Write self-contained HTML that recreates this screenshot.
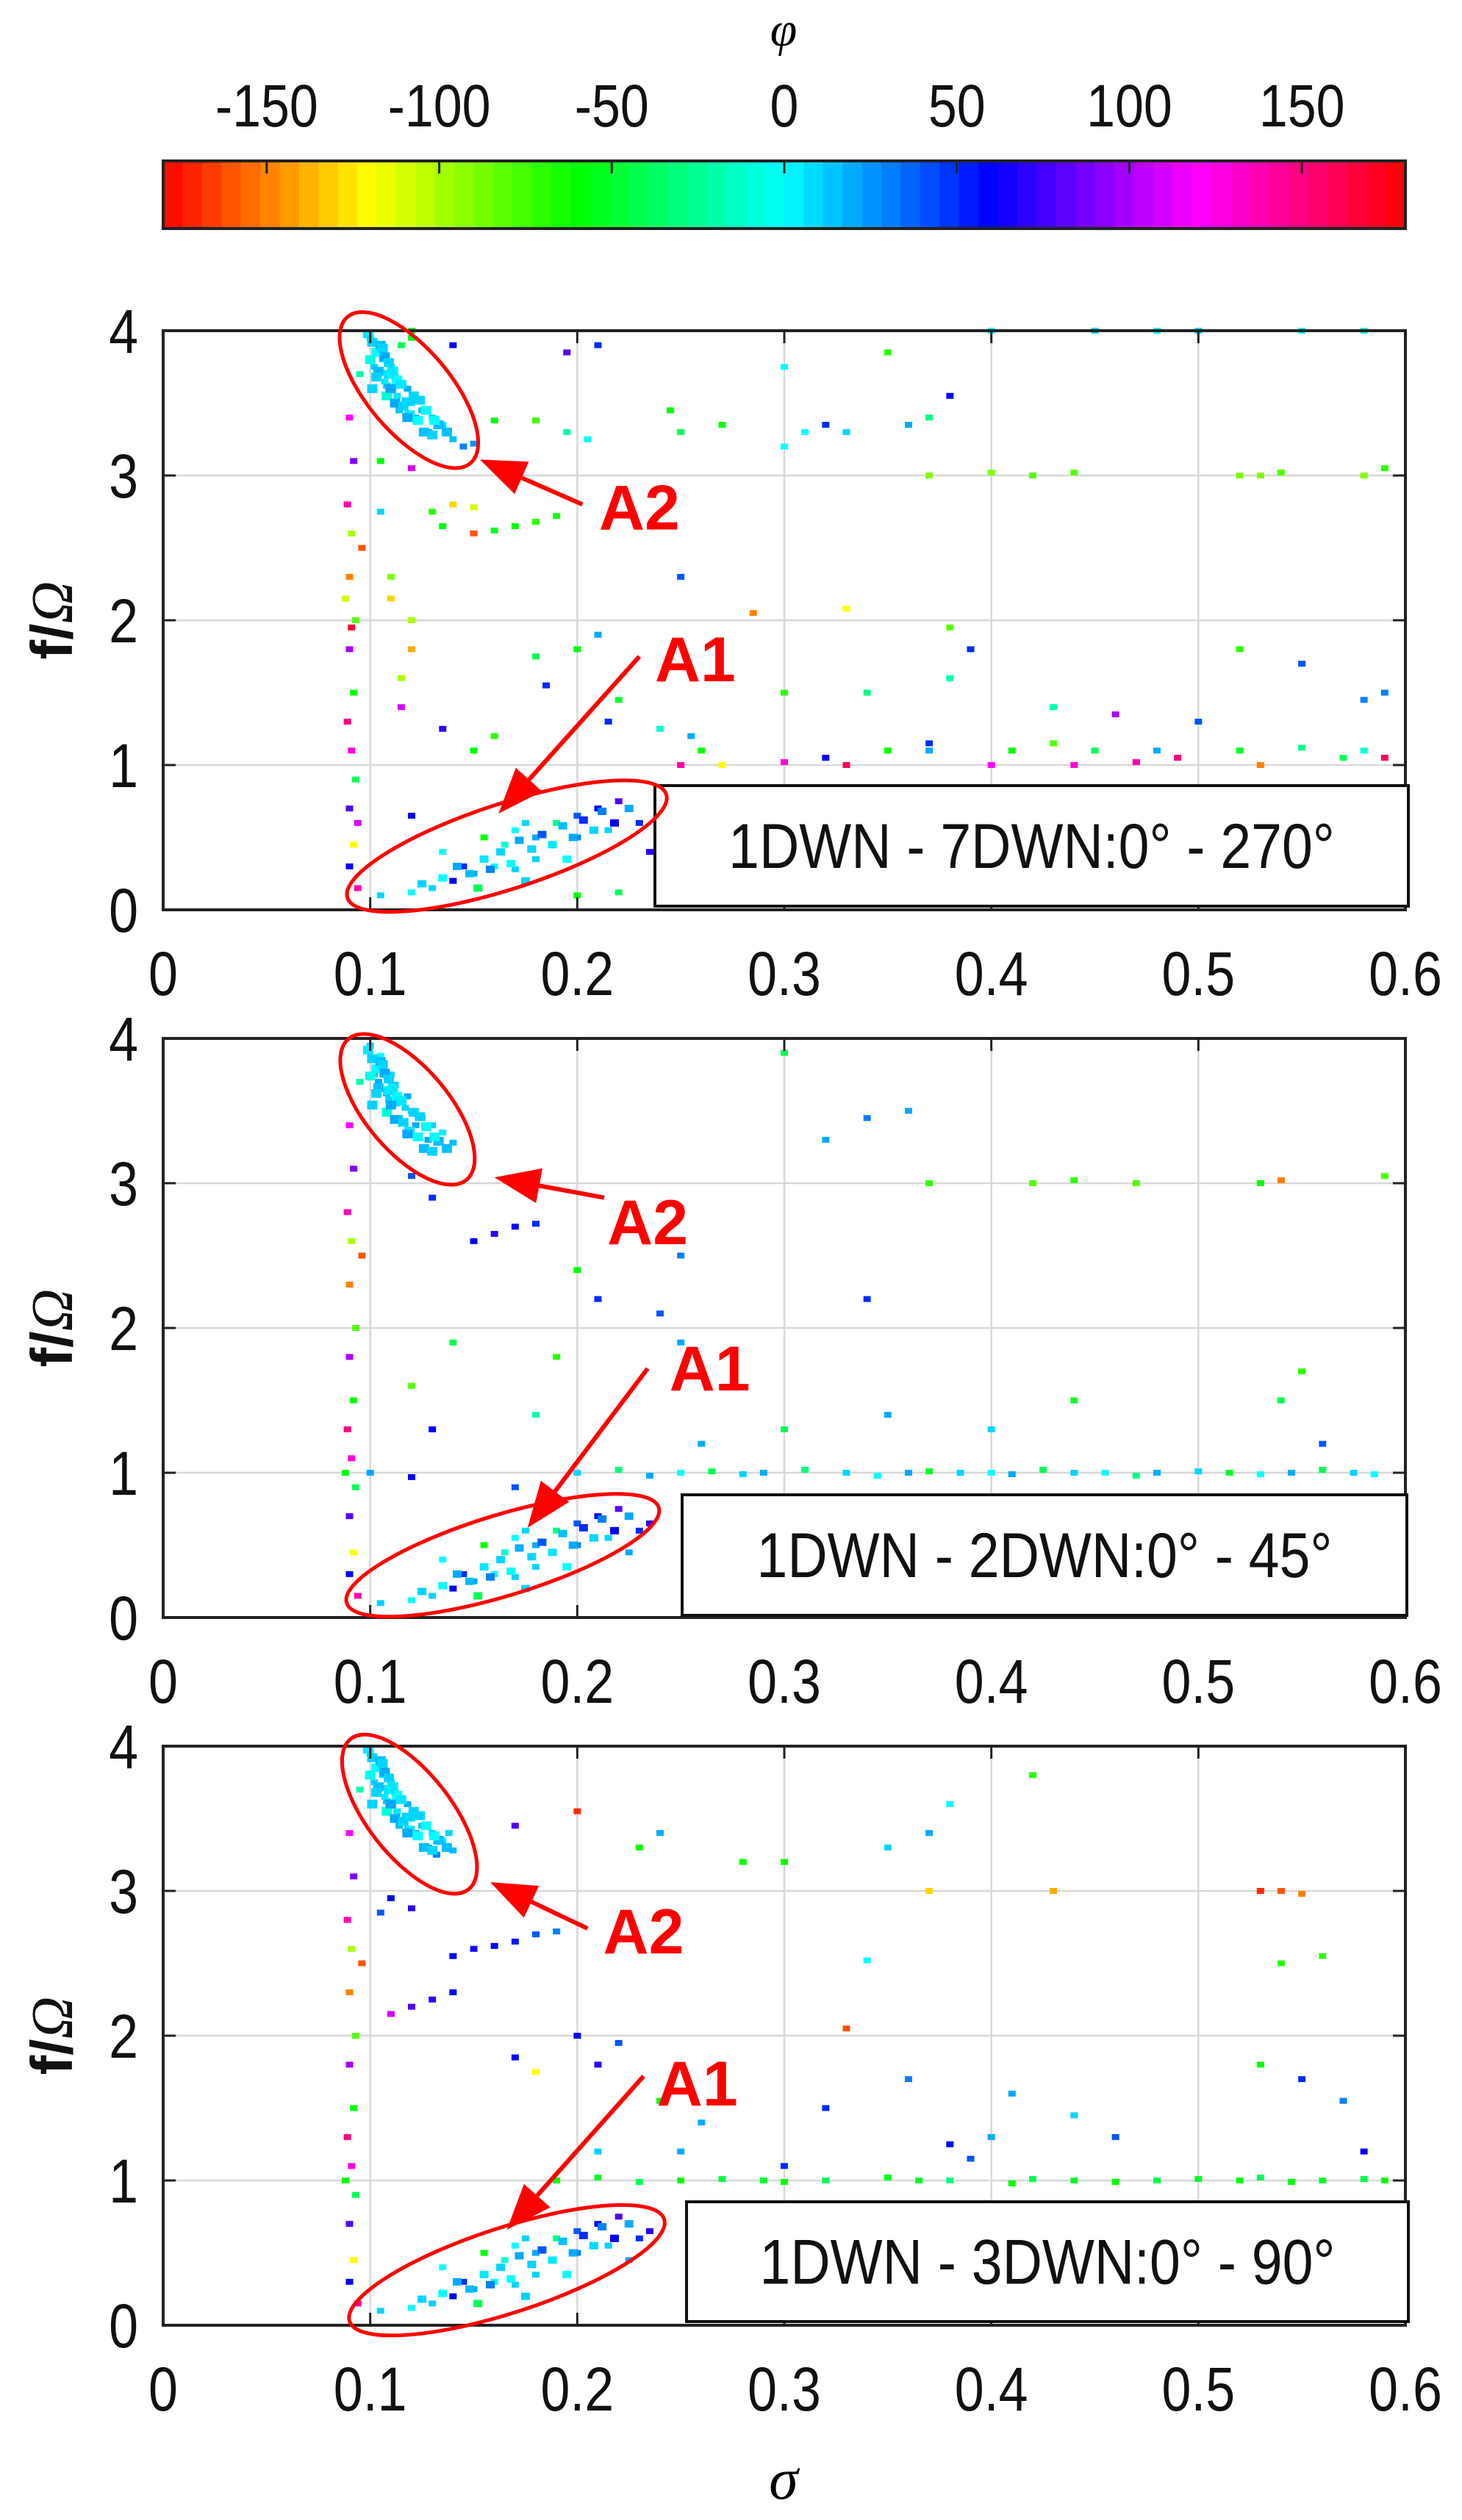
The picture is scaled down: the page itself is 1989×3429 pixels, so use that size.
<!DOCTYPE html>
<html><head><meta charset="utf-8"><style>
html,body{margin:0;padding:0;background:#fff;}
svg{display:block;font-family:"Liberation Sans",sans-serif;}
</style></head><body>
<svg id="fig" width="1989" height="3429" viewBox="0 0 1989 3429" xmlns="http://www.w3.org/2000/svg">
<rect x="0" y="0" width="1989" height="3429" fill="#fff"/>
<g id="cbar"></g>
<g id="p1"></g>
<g id="p2"></g>
<g id="p3"></g>
<text x="1066" y="3400" font-family="Liberation Serif" font-style="italic" font-size="80" text-anchor="middle">σ</text>
<text x="1066" y="62" font-family="Liberation Serif" font-style="italic" font-size="66" text-anchor="middle">φ</text>
</svg>
<script>
// colorbar data
const cbTicks = [-150, -100, -50, 0, 50, 100, 150];
const cbMin = -180, cbMax = 180, cbBands = 64;

// x/y axis ticks
const xTicks = [0, 0.1, 0.2, 0.3, 0.4, 0.5, 0.6];
const xTickLabels = ["0", "0.1", "0.2", "0.3", "0.4", "0.5", "0.6"];
const yTicks = [0, 1, 2, 3, 4];
const yTickLabels = ["0", "1", "2", "3", "4"];

// panel titles
const panelLabels = ["1DWN - 7DWN:0° - 270°", "1DWN - 2DWN:0° - 45°", "1DWN - 3DWN:0° - 90°"];

// dense A2 cloud (shared pattern in all panels)
const a2CloudSigma = [0.099,0.101,0.103,0.105,0.107,0.109,0.111,0.113,0.101,0.104,0.108,0.112,0.116,0.119,0.123,0.126,0.130,0.100,0.106,0.110,0.115,0.121,0.127,0.133,0.103,0.109,0.118,0.124,0.131,0.137];
const a2CloudF = [3.98,3.92,3.85,3.90,3.82,3.78,3.72,3.66,3.60,3.72,3.55,3.50,3.48,3.42,3.38,3.30,3.28,3.80,3.88,3.60,3.63,3.55,3.45,3.35,3.68,3.70,3.40,3.52,3.38,3.30];
const a2CloudPhi = [5,10,0,15,20,10,5,0,10,15,-10,20,10,5,0,15,10,-5,10,20,5,10,0,15,10,5,20,10,0,15];
// dense A1 cloud
const a1CloudSigma = [0.125,0.135,0.142,0.148,0.155,0.158,0.163,0.168,0.172,0.178,0.183,0.188,0.193,0.198,0.203,0.208,0.212,0.218,0.225,0.152,0.175,0.195];
const a1CloudF = [0.18,0.22,0.30,0.25,0.35,0.28,0.40,0.32,0.48,0.42,0.52,0.45,0.58,0.50,0.62,0.55,0.68,0.60,0.70,0.15,0.20,0.35];
const a1CloudPhi = [10,0,20,15,5,30,10,0,20,10,40,5,15,20,50,10,30,60,20,-40,10,0];

// panel 1 data (sigma, f/Omega, phi)
const p1Sigma = [0.100,0.103,0.106,0.104,0.110,0.108,0.113,0.118,0.120,0.125,0.130,0.135,0.128,0.140,0.145,0.150,0.115,0.120,0.102,0.107,0.112,0.117,0.122,0.105,0.109,0.114,
0.090,0.092,0.089,0.091,0.090,0.093,0.090,0.092,0.089,0.091,0.093,0.090,0.092,0.090,0.094,0.095,0.096,0.088,0.091,0.094,
0.105,0.120,0.105,0.130,0.140,0.150,0.135,0.150,0.160,0.170,0.180,0.190,0.160,0.180,0.195,0.205,0.110,0.110,0.120,0.120,0.115,0.115,0.135,0.150,0.160,0.180,0.185,0.200,0.210,0.220,0.215,0.240,0.250,0.260,0.255,0.270,0.300,0.320,0.330,0.350,0.370,0.380,0.370,0.400,0.410,0.430,0.450,0.440,0.470,0.490,0.480,0.500,0.520,0.530,0.550,0.570,0.580,0.590,0.580,0.460,0.430,0.340,0.300,0.250,0.285,0.330,0.380,0.390,0.520,0.550,0.590,
0.370,0.400,0.420,0.440,0.520,0.530,0.540,0.580,0.590,
0.300,0.350,0.380,0.360,0.330,0.300,0.310,0.320,0.370,0.270,0.250,0.245,0.210,0.195,0.140,0.120,0.400,0.450,0.480,0.500,0.550,0.580,
0.105,0.120,0.130,0.140,0.150,0.160,0.170,0.165,0.170,0.175,0.180,0.190,0.200,0.210,0.215,0.220,0.230,0.200,0.180,0.155,0.120,0.135,0.145,0.200,0.220,0.235];
const p1F = [3.95,3.85,3.80,3.70,3.75,3.62,3.55,3.60,3.50,3.45,3.40,3.35,3.30,3.25,3.20,3.22,3.90,3.95,3.75,3.65,3.68,3.52,3.40,3.88,3.58,3.45,
3.40,3.10,2.80,2.60,2.30,2.00,1.80,1.50,1.30,1.10,0.90,0.70,0.45,0.30,0.15,3.70,2.50,2.15,1.95,0.60,
3.10,3.05,2.75,2.75,2.80,2.78,2.65,2.60,2.62,2.65,2.68,2.72,3.38,3.38,3.30,3.25,2.30,2.15,2.00,1.80,1.60,1.40,1.25,1.10,1.20,1.75,1.55,1.80,1.90,1.45,1.30,1.25,1.00,1.10,1.20,1.00,1.02,1.05,1.00,1.10,1.10,1.60,1.15,1.00,1.10,1.15,1.10,1.00,1.02,1.05,1.10,1.30,1.10,1.00,1.12,1.05,1.10,1.05,1.45,1.35,1.40,1.50,1.50,2.30,2.05,2.08,1.95,1.80,1.80,1.70,1.50,
3.00,3.02,3.00,3.02,3.00,3.00,3.02,3.00,3.05,
3.75,3.85,3.55,3.35,3.30,3.20,3.30,3.35,3.40,3.35,3.30,3.45,3.90,3.85,3.90,4.00,4.00,4.00,4.00,4.00,4.00,4.00,
0.10,0.12,0.15,0.20,0.25,0.30,0.28,0.45,0.55,0.60,0.50,0.60,0.65,0.70,0.55,0.75,0.60,0.50,0.35,0.50,0.65,0.40,0.30,0.10,0.12,0.40];
const p1Phi = [10,15,5,20,10,15,5,20,10,15,10,5,20,15,30,25,-40,-50,10,5,15,10,20,0,10,15,
120,90,140,-100,-150,-80,100,-60,150,130,-40,80,-120,60,140,-20,-160,-110,170,110,
-60,110,10,-70,-130,-110,-60,-160,-50,-60,-70,-65,-60,-75,-20,0,-90,-130,-100,-140,-100,110,70,-60,-70,-40,50,-60,20,-50,50,-10,140,-60,20,-120,130,60,160,-60,20,-20,50,120,-60,-80,-40,130,140,150,20,40,-50,-150,-30,-40,-10,160,30,100,-20,-30,-70,40,-150,-120,-80,50,-70,40,30,
-90,-90,-80,-80,-90,-90,-80,-90,-70,
0,-70,60,20,10,0,0,50,-30,-60,-40,-60,50,80,60,-50,0,10,0,10,0,-10,
10,0,10,60,20,0,10,-10,0,10,20,-30,40,60,10,80,50,30,10,-60,60,0,50,-60,-40,70];

// panel 2 data
const p2Sigma = [0.100,0.103,0.106,0.104,0.110,0.108,0.113,0.118,0.120,0.125,0.130,0.135,0.128,0.140,0.102,0.107,0.112,0.117,0.105,0.109,0.114,0.122,
0.090,0.092,0.089,0.091,0.090,0.093,0.090,0.092,0.089,0.091,0.093,0.090,0.092,0.090,0.094,0.095,0.096,0.088,
0.200,0.220,0.235,0.250,0.265,0.280,0.290,0.310,0.330,0.345,0.360,0.370,0.385,0.400,0.410,0.425,0.440,0.455,0.470,0.480,0.500,0.515,0.530,0.545,0.560,0.575,0.585,
0.150,0.160,0.170,0.180,0.130,0.120,0.300,0.320,0.340,0.360,0.370,0.420,0.440,0.470,0.530,0.540,0.590,0.550,0.540,0.440,0.400,0.350,0.300,0.250,0.240,0.200,0.190,0.140,0.120,0.130,0.100,0.120,0.170,0.250,0.210,0.260,0.180,0.340,0.560,
0.105,0.120,0.130,0.140,0.150,0.160,0.170,0.165,0.170,0.175,0.180,0.190,0.200,0.210,0.215,0.220,0.230,0.200,0.180,0.155,0.135,0.145,0.235,0.225];
const p2F = [3.95,3.85,3.80,3.70,3.75,3.62,3.55,3.60,3.50,3.45,3.40,3.35,3.30,3.28,3.75,3.65,3.68,3.52,3.88,3.58,3.45,3.40,
3.40,3.10,2.80,2.60,2.30,2.00,1.80,1.50,1.30,1.10,0.90,0.70,0.45,0.30,0.15,3.70,2.50,1.00,
1.00,1.02,0.98,1.00,1.01,0.99,1.00,1.02,1.00,0.98,1.00,1.01,1.00,1.00,0.99,1.02,1.00,1.00,0.98,1.00,1.01,1.00,0.99,1.00,1.02,1.00,0.99,
2.60,2.65,2.70,2.72,2.90,3.05,3.90,3.30,3.45,3.50,3.00,3.00,3.02,3.00,3.00,3.02,3.05,1.70,1.50,1.50,1.30,1.40,1.30,1.90,2.10,2.40,1.80,1.90,1.60,1.30,1.00,0.97,0.90,2.50,2.20,1.20,1.40,2.20,1.20,
0.10,0.12,0.15,0.20,0.25,0.30,0.28,0.45,0.55,0.60,0.50,0.60,0.65,0.70,0.55,0.75,0.60,0.50,0.35,0.50,0.40,0.30,0.65,0.45];
const p2Phi = [10,15,5,20,10,15,5,20,10,15,10,5,20,15,10,5,15,10,0,10,15,20,
120,90,140,-100,-150,-80,100,-60,150,130,-40,80,-120,60,140,-20,-160,-60,
10,-30,20,0,-40,10,20,-30,10,0,20,-50,10,0,20,-40,10,0,-30,20,10,-50,0,20,-40,10,0,
60,70,60,50,50,40,-40,20,30,20,-70,-80,-70,-80,-60,-150,-80,-70,-40,-50,10,20,-40,20,40,-60,-70,-40,-80,60,20,60,40,30,50,20,-20,50,40,
10,0,10,60,20,0,10,-10,0,10,20,-30,40,60,10,80,50,30,10,-60,0,50,70,20];

// panel 3 data
const p3Sigma = [0.100,0.103,0.106,0.104,0.110,0.108,0.113,0.118,0.120,0.125,0.130,0.135,0.128,0.140,0.102,0.107,0.112,0.117,0.105,0.109,0.114,0.122,0.132,0.138,
0.090,0.092,0.089,0.091,0.090,0.093,0.090,0.092,0.089,0.091,0.093,0.090,0.092,0.090,0.094,0.095,0.096,0.088,
0.190,0.210,0.230,0.250,0.270,0.290,0.300,0.320,0.350,0.365,0.380,0.410,0.420,0.440,0.460,0.480,0.500,0.520,0.530,0.545,0.560,0.580,0.590,
0.370,0.430,0.530,0.540,0.550,0.140,0.150,0.160,0.170,0.180,0.190,0.105,0.110,0.120,0.170,0.200,0.230,0.240,0.280,0.300,0.350,0.370,0.380,0.420,0.540,0.560,0.340,0.330,0.200,0.210,0.180,0.170,0.110,0.120,0.130,0.140,0.220,0.240,0.260,0.320,0.360,0.380,0.410,0.440,0.460,0.530,0.550,0.570,0.580,0.400,0.300,0.210,0.390,0.250,
0.105,0.120,0.130,0.140,0.150,0.160,0.170,0.165,0.170,0.175,0.180,0.190,0.200,0.210,0.215,0.220,0.230,0.200,0.180,0.155,0.135,0.145,0.235,0.225];
const p3F = [3.95,3.85,3.80,3.70,3.75,3.62,3.55,3.60,3.50,3.45,3.40,3.35,3.30,3.28,3.75,3.65,3.68,3.52,3.88,3.58,3.45,3.40,3.25,3.40,
3.40,3.10,2.80,2.60,2.30,2.00,1.80,1.50,1.30,1.10,0.90,0.70,0.45,0.30,0.15,3.70,2.50,1.00,
1.00,1.02,0.99,1.00,1.01,1.00,0.99,1.00,1.02,1.00,1.00,0.98,1.01,1.00,0.99,1.00,1.01,1.00,1.02,0.99,1.00,1.01,1.00,
3.00,3.00,3.00,3.00,2.98,2.55,2.60,2.62,2.65,2.70,2.72,2.85,2.95,2.88,3.45,3.55,3.30,3.40,3.20,3.20,3.30,3.40,3.60,3.80,2.50,2.55,2.52,2.05,2.00,1.80,1.75,1.85,2.15,2.20,2.25,2.30,1.95,1.55,1.40,1.50,1.70,1.25,1.60,1.45,1.30,1.80,1.70,1.55,1.20,1.30,1.10,1.20,1.15,1.20,
0.10,0.12,0.15,0.20,0.25,0.30,0.28,0.45,0.55,0.60,0.50,0.60,0.65,0.70,0.55,0.75,0.60,0.50,0.35,0.50,0.40,0.30,0.65,0.45];
const p3Phi = [10,15,5,20,10,15,5,20,10,15,10,5,20,15,10,5,15,10,0,10,15,20,30,10,
120,90,140,-100,-150,-80,100,-60,150,130,-40,80,-120,60,140,-20,-160,-60,
-60,-50,-40,-60,-45,-50,-60,-40,-55,-50,-30,-60,-40,-50,-60,-45,-50,-60,-40,-55,-50,-45,-60,
-130,-140,-170,-160,-150,60,65,60,55,40,30,40,60,70,80,-170,-60,20,-60,-60,10,20,0,-70,-70,-70,0,-160,60,70,-120,60,110,80,70,60,40,-60,20,50,30,60,20,10,40,-60,50,30,60,20,50,10,40,20,
10,0,10,60,20,0,10,-10,0,10,20,-30,40,60,10,80,50,30,10,-60,0,50,70,20];

// annotations (data coords)
const annot = [
 {a2:[0.1187,3.59,130,57,50], a2txt:[0.230,2.78], a2arr:[0.2025,2.80,0.153,3.11], a1:[0.166,0.44,228,58,-18], a1txt:[0.257,1.73], a1arr:[0.230,1.75,0.162,0.665]},
 {a2:[0.1180,3.51,125,57,50], a2txt:[0.234,2.73], a2arr:[0.213,2.90,0.160,3.04], a1:[0.164,0.43,222,55,-17], a1txt:[0.264,1.72], a1arr:[0.234,1.72,0.176,0.62]},
 {a2:[0.1190,3.53,130,57,52], a2txt:[0.232,2.72], a2arr:[0.205,2.74,0.158,3.06], a1:[0.166,0.38,225,58,-18], a1txt:[0.258,1.67], a1arr:[0.232,1.72,0.166,0.66]}
];
const legendBoxes = [[891,1069,1916,1233],[928,2034,1914,2198],[934,2996,1916,3159]];

const NS = "http://www.w3.org/2000/svg";
function mk(tag, attrs, parent){ const e=document.createElementNS(NS,tag); for(const k in attrs) e.setAttribute(k,attrs[k]); parent.appendChild(e); return e; }
function hsv(h){ h=((h%360)+360)%360; const x=1-Math.abs((h/60)%2-1); let r,g,b;
 if(h<60){r=1;g=x;b=0;}else if(h<120){r=x;g=1;b=0;}else if(h<180){r=0;g=1;b=x;}else if(h<240){r=0;g=x;b=1;}else if(h<300){r=x;g=0;b=1;}else{r=1;g=0;b=x;}
 return "rgb("+Math.round(r*255)+","+Math.round(g*255)+","+Math.round(b*255)+")"; }
function phiColor(p){ return hsv(180+p); }

const L=222, R=1912;
// colorbar
(function(){
 const g=document.getElementById('cbar'); const T=219, B=311;
 const cx=v=>L+(v-cbMin)/(cbMax-cbMin)*(R-L);
 for(let i=0;i<cbBands;i++){
  const v0=cbMin+i*(cbMax-cbMin)/cbBands, v1=cbMin+(i+1)*(cbMax-cbMin)/cbBands;
  const r=mk('rect',{x:cx(v0),y:T,width:cx(v1)-cx(v0)+0.6,height:B-T,fill:phiColor((v0+v1)/2)},g);
  
  
 }
 mk('rect',{x:L,y:T,width:R-L,height:B-T,fill:'none',stroke:'#222','stroke-width':4},g);
 cbTicks.forEach(v=>{
  const x=cx(v);
  mk('line',{x1:x,y1:T,x2:x,y2:T+17,stroke:'#222','stroke-width':3},g);
  const t=mk('text',{x:0,y:0,'font-size':76,'text-anchor':'middle',fill:'#111',transform:'translate('+x+',172) scale(0.92,1.08)'},g);
  t.textContent=String(v);
  
  
 });
})();

const panelTops=[450,1413,2376], PH=788;
const datasets=[[p1Sigma,p1F,p1Phi],[p2Sigma,p2F,p2Phi],[p3Sigma,p3F,p3Phi]];
datasets.forEach((ds,pi)=>{
 const g=document.getElementById('p'+(pi+1));
 const T=panelTops[pi], B=T+PH;
 const sx=s=>L+s/0.6*(R-L);
 const sy=f=>B-f/4*PH;
 // grid
 xTicks.slice(1,-1).forEach(v=>mk('line',{x1:sx(v),y1:T,x2:sx(v),y2:B,stroke:'#d8d8d8','stroke-width':2.5},g));
 yTicks.slice(1,-1).forEach(v=>mk('line',{x1:L,y1:sy(v),x2:R,y2:sy(v),stroke:'#d8d8d8','stroke-width':2.5},g));
 // points
 const [S,F,P]=ds;
 for(let i=0;i<S.length;i++){
  const r=mk('rect',{x:sx(S[i])-5,y:sy(F[i])-4,width:10,height:8,fill:phiColor(P[i])},g);
  
  
 }
 for(let i=0;i<a2CloudSigma.length;i++){
  const r=mk('rect',{x:sx(a2CloudSigma[i])-7,y:sy(a2CloudF[i]-(pi===1?0.06:0))-6,width:14,height:12,fill:phiColor(a2CloudPhi[i])},g);
  
  
 }
 for(let i=0;i<a1CloudSigma.length;i++){
  const r=mk('rect',{x:sx(a1CloudSigma[i])-6,y:sy(a1CloudF[i])-5,width:12,height:10,fill:phiColor(a1CloudPhi[i])},g);
  
  
 }
 // axes box
 mk('rect',{x:L,y:T,width:R-L,height:PH,fill:'none',stroke:'#222','stroke-width':4},g);
 xTicks.forEach((v,i)=>{
  mk('line',{x1:sx(v),y1:B,x2:sx(v),y2:B-17,stroke:'#222','stroke-width':3},g);
  mk('line',{x1:sx(v),y1:T,x2:sx(v),y2:T+17,stroke:'#222','stroke-width':3},g);
  const t=mk('text',{x:0,y:0,'font-size':78,'text-anchor':'middle',fill:'#111',transform:'translate('+sx(v)+','+(B+116)+') scale(0.92,1.08)'},g);
  t.textContent=xTickLabels[i];
  
  
 });
 yTicks.forEach((v,i)=>{
  mk('line',{x1:L,y1:sy(v),x2:L+17,y2:sy(v),stroke:'#222','stroke-width':3},g);
  mk('line',{x1:R,y1:sy(v),x2:R-17,y2:sy(v),stroke:'#222','stroke-width':3},g);
  const t=mk('text',{x:0,y:0,'font-size':78,'text-anchor':'end',fill:'#111',transform:'translate(188,'+(sy(v)+30)+') scale(0.92,1.08)'},g);
  t.textContent=yTickLabels[i];
  
  
 });
 // y title
 const yt=mk('text',{x:0,y:0,'font-size':80,'font-weight':'bold','text-anchor':'middle',fill:'#111',transform:'translate(98,'+((T+B)/2)+') rotate(-90)'},g);
 yt.innerHTML='f/<tspan font-family="Liberation Serif" font-weight="normal" font-style="italic">Ω</tspan>';
 
 
 // legend box
 const lb=legendBoxes[pi];
 const box=mk('rect',{x:lb[0],y:lb[1],width:lb[2]-lb[0],height:lb[3]-lb[1],fill:'#fff',stroke:'#111','stroke-width':4},g);
 
 
 const lt=mk('text',{x:0,y:0,'font-size':80,'text-anchor':'middle',fill:'#111',transform:'translate('+((lb[0]+lb[2])/2)+','+((lb[1]+lb[3])/2+30)+') scale(0.94,1.08)'},g);
 lt.textContent=panelLabels[pi];
 
 
 // annotations
 const an=annot[pi];
 [['a2','a2txt','a2arr','A2'],['a1','a1txt','a1arr','A1']].forEach(k=>{
  const e=an[k[0]];
  const el=mk('ellipse',{cx:sx(e[0]),cy:sy(e[1]),rx:e[2],ry:e[3],fill:'none',stroke:'#f00','stroke-width':5,transform:'rotate('+e[4]+' '+sx(e[0])+' '+sy(e[1])+')'},g);
  
  
  const a=an[k[2]];
  const x1=sx(a[0]),y1=sy(a[1]),x2=sx(a[2]),y2=sy(a[3]);
  const dx=x2-x1,dy=y2-y1,len=Math.hypot(dx,dy),ux=dx/len,uy=dy/len;
  const hl=62,hw=24;
  const bx=x2-ux*hl,by=y2-uy*hl;
  mk('line',{x1:x1,y1:y1,x2:bx,y2:by,stroke:'#f00','stroke-width':6},g);
  const head=mk('polygon',{points:x2+','+y2+' '+(bx-uy*hw)+','+(by+ux*hw)+' '+(bx+uy*hw)+','+(by-ux*hw),fill:'#f00'},g);
  
  
  const tp=an[k[1]];
  const t=mk('text',{x:sx(tp[0]),y:sy(tp[1])+30,'font-size':86,'font-weight':'bold','text-anchor':'middle',fill:'#f00'},g);
  t.textContent=k[3];
  
  
 });
});
</script>
</body></html>
